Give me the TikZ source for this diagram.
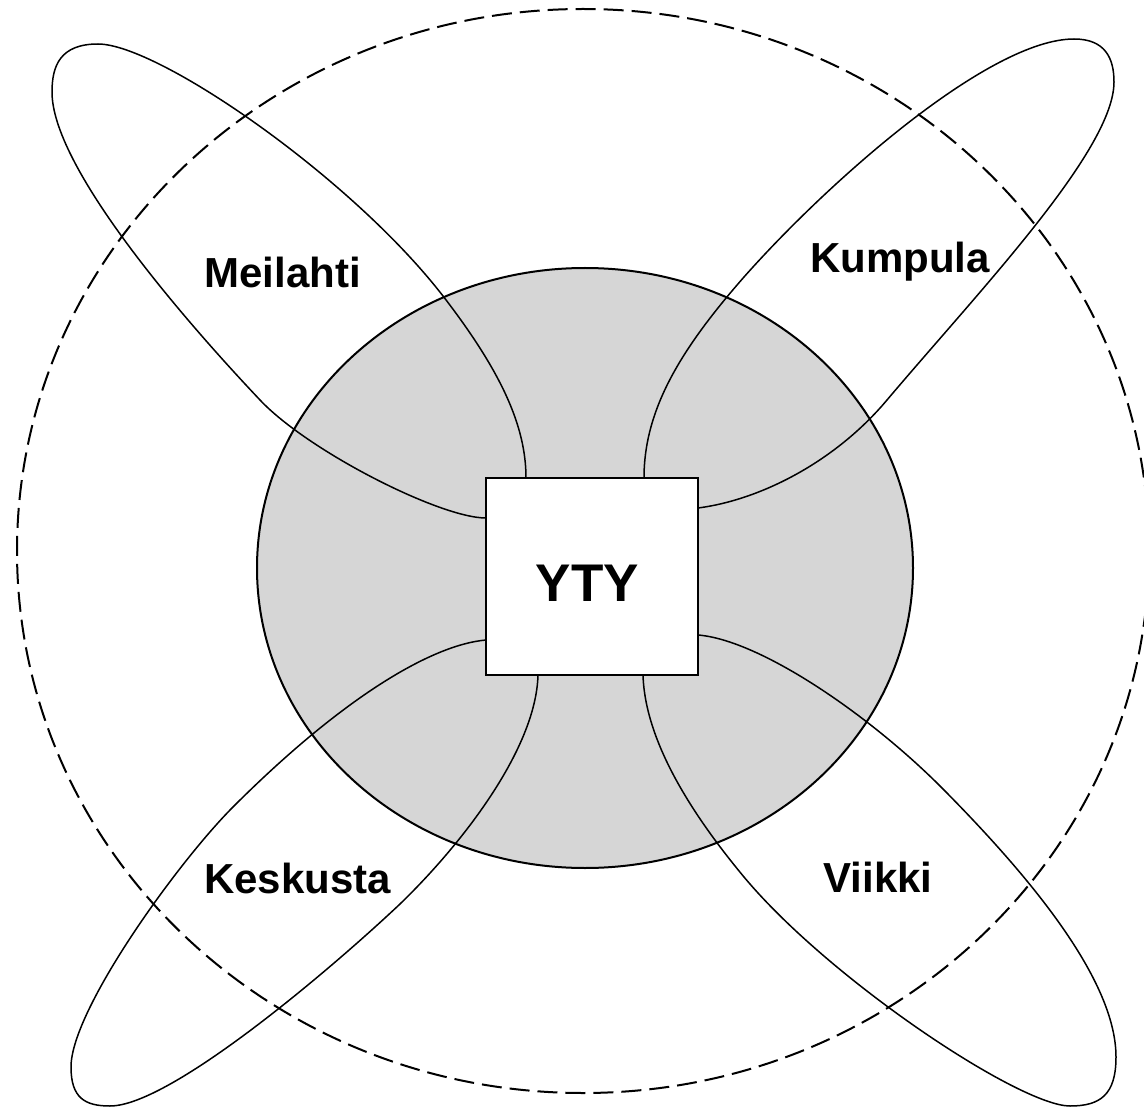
\documentclass[tikz,border=0pt]{standalone}
\usepackage{fontspec}
\setmainfont{Liberation Sans}
\begin{document}
\begin{tikzpicture}[x=1pt,y=-1pt,
  petal/.style={line width=1.5pt},
  lbl/.style={font=\fontsize{42}{50}\selectfont\bfseries, anchor=base, inner sep=0pt},
  outerring/.style={line width=2pt, dash pattern=on 20pt off 8pt},
  hub/.style={line width=2pt, fill=black!16},
  core/.style={draw, line width=2.5pt, fill=white, minimum width=212pt, minimum height=197pt, inner sep=0pt}]
\useasboundingbox (0,0) rectangle (1144,1107);
\fill[white] (0,0) rectangle (1144,1107);
% outer dashed ellipse
\draw[outerring] (583,551) ellipse [x radius=566, y radius=542];
% grey hub
\draw[hub] (585,568) ellipse [x radius=328, y radius=300];
% petals
\draw[petal] (526,478) .. controls (526,425) and (500,370) .. (443,296)
  .. controls (351,177) and (158,44) .. (98,44)
  .. controls (60,44) and (52,66) .. (52,92)
  .. controls (52,165) and (175,310) .. (260,400)
  .. controls (308,451) and (440,518) .. (486,518);
\draw[petal] (644,478) .. controls (644,410) and (680,350) .. (744,277)
  .. controls (830,180) and (990,39) .. (1074,39)
  .. controls (1105,39) and (1114,58) .. (1114,82)
  .. controls (1114,150) and (980,290) .. (887,400)
  .. controls (835,462) and (760,500) .. (698,508);
\draw[petal] (486,640) .. controls (430,645) and (340,700) .. (233,807)
  .. controls (178,862) and (71,1010) .. (71,1067)
  .. controls (71,1098) and (85,1106) .. (110,1106)
  .. controls (170,1106) and (330,970) .. (400,904)
  .. controls (460,846) and (536,750) .. (538,675);
\draw[petal] (698,635) .. controls (760,640) and (870,715) .. (944,790)
  .. controls (1030,877) and (1116,980) .. (1116,1057)
  .. controls (1116,1095) and (1100,1106) .. (1070,1106)
  .. controls (1020,1106) and (830,980) .. (744,877)
  .. controls (690,812) and (645,740) .. (643,675);
% centre box
\node[core] (yty) at (592,576.5) {};
\node[lbl, font=\fontsize{53}{60}\selectfont\bfseries] (ytylabel) at (587.5,601) {YTY};
% labels
\node[lbl] (meilahti) at (282.5,288) {Meilahti};
\node[lbl] (kumpula) at (900,273) {Kumpula};
\node[lbl] (keskusta) at (297.5,893) {Keskusta};
\node[lbl] (viikki) at (878,892) {Viikki};
\end{tikzpicture}
\end{document}
